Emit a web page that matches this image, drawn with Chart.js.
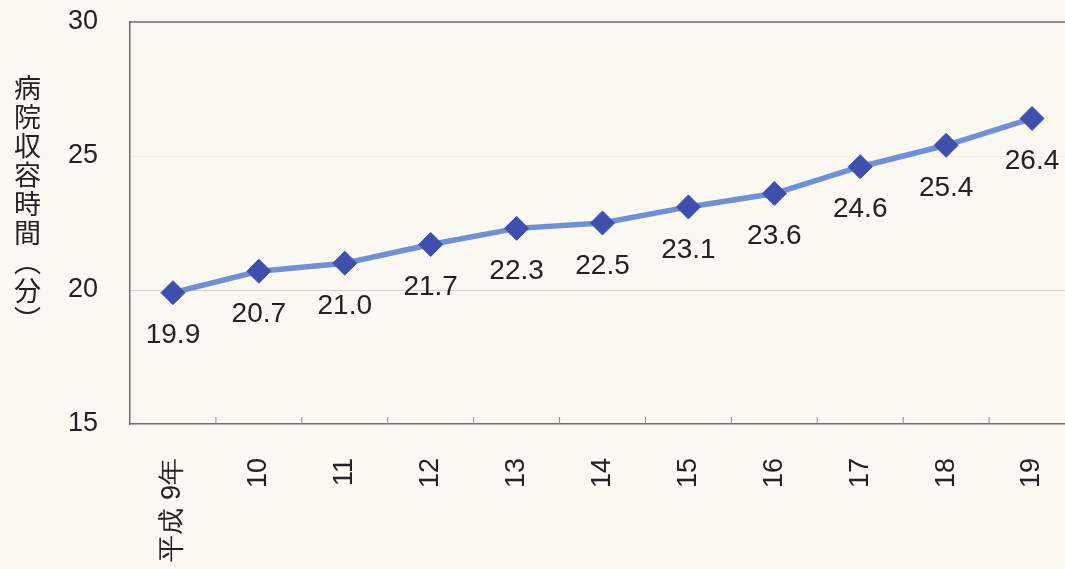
<!DOCTYPE html>
<html lang="ja">
<head>
<meta charset="utf-8">
<script src="https://cdn.jsdelivr.net/npm/chart.js@4.4.1/dist/chart.umd.min.js"></script>
<style>
    html, body { margin: 0; padding: 0; background: #fbf9f2; }
    body { width: 1065px; height: 569px; overflow: hidden; position: relative; }
    .grafico { position: absolute; left: 0; top: 0; width: 1088px; height: 569px; }
    .titulo-y {
        position: absolute; left: 14px; top: 74px;
        writing-mode: vertical-rl; text-orientation: upright;
        font-family: "Noto Sans CJK JP", sans-serif; font-size: 27px;
        line-height: 1; letter-spacing: 2px; color: #222;
    }
</style>
</head>
<body>
<div class="grafico"><canvas id="graficoLinhas" width="1088" height="569"></canvas></div>
<div class="titulo-y">病院収容時間（分）</div>
<script>
// valores
const anos    = ["平成 9年", "10", "11", "12", "13", "14", "15", "16", "17", "18", "19"];
const tempos  = [19.9, 20.7, 21.0, 21.7, 22.3, 22.5, 23.1, 23.6, 24.6, 25.4, 26.4];
const ticksY  = [15, 20, 25, 30];

const fonte = "'Liberation Sans', Arial, sans-serif";

// moldura superior, marcas internas do eixo x e rótulos dos valores
const extras = {
    id: "extras",
    afterDraw(chart) {
        const { ctx, chartArea, scales } = chart;
        const x = scales.x;
        ctx.save();
        ctx.strokeStyle = "#6d6d6d";
        ctx.lineWidth = 1.5;
        ctx.beginPath();
        ctx.moveTo(chartArea.left, chartArea.top);
        ctx.lineTo(chartArea.right, chartArea.top);
        ctx.stroke();

        // marcas entre categorias, para dentro
        ctx.lineWidth = 1;
        ctx.strokeStyle = "#8a8a8a";
        for (let i = 1; i < anos.length; i++) {
            const px = (x.getPixelForValue(i - 1) + x.getPixelForValue(i)) / 2;
            ctx.beginPath();
            ctx.moveTo(px, chartArea.bottom);
            ctx.lineTo(px, chartArea.bottom - 7);
            ctx.stroke();
        }

        ctx.fillStyle = "#222";
        ctx.font = "28px " + fonte;
        ctx.textAlign = "center";
        ctx.textBaseline = "middle";
        chart.getDatasetMeta(0).data.forEach((p, i) => {
            ctx.fillText(tempos[i].toFixed(1), p.x, p.y + 43);
        });
        ctx.restore();
    }
};

new Chart(document.getElementById("graficoLinhas"), {
    type: "line",
    data: {
        labels: anos,
        datasets: [{
            data: tempos,
            borderColor: "#6f90d8",
            borderWidth: 5.5,
            pointStyle: "rectRot",
            pointRadius: 12,
            pointHoverRadius: 12,
            pointBackgroundColor: "#3f4fae",
            pointBorderColor: "#3f4fae",
            pointBorderWidth: 1,
            tension: 0,
            fill: false,
            clip: false
        }]
    },
    plugins: [extras],
    options: {
        responsive: false,
        animation: false,
        layout: { padding: { top: 22, right: 4, left: 0, bottom: 0 } },
        plugins: { legend: { display: false }, tooltip: { enabled: false } },
        scales: {
            x: {
                offset: true,
                grid: { display: false },
                border: { display: true, color: "#6d6d6d", width: 1.5 },
                ticks: {
                    color: "#222",
                    font: { size: 27, family: fonte },
                    minRotation: 90,
                    maxRotation: 90,
                    padding: 26,
                    autoSkip: false
                },
                afterFit: s => { s.height = 145; s.paddingLeft = 0; s.paddingRight = 0; }
            },
            y: {
                min: 15,
                max: 30,
                afterBuildTicks: s => { s.ticks = ticksY.map(v => ({ value: v })); },
                grid: {
                    drawTicks: false,
                    color: c => (c.tick.value === 20 ? "rgba(0,0,0,0.16)" : c.tick.value === 25 ? "rgba(0,0,0,0.04)" : "rgba(0,0,0,0)"),
                    lineWidth: 1
                },
                border: { display: true, color: "#6d6d6d", width: 1.5 },
                ticks: {
                    color: "#222",
                    font: { size: 27, family: fonte },
                    padding: 32
                },
                afterFit: s => { s.width = 130; s.paddingTop = 0; s.paddingBottom = 0; }
            }
        }
    }
});
</script>
</body>
</html>
